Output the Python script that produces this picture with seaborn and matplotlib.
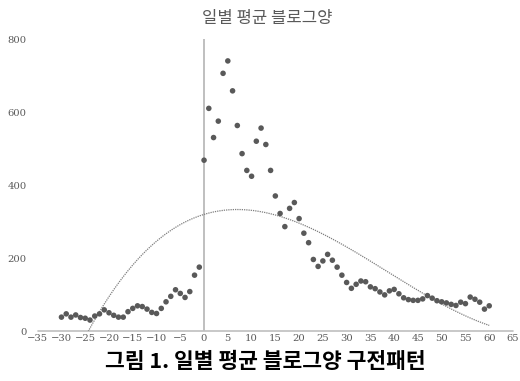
import numpy as np
import pandas as pd
import matplotlib
matplotlib.use("Agg")
import matplotlib.pyplot as plt
import seaborn as sns

# Days relative to the event and the average blog volume for each day
days = list(range(-30, 61))
blog_volume = [
    38, 47, 38, 44, 37, 35, 30, 41, 47, 58,      # -30 .. -21
    50, 43, 38, 38, 53, 62, 69, 67, 60, 51,      # -20 .. -11
    48, 62, 80, 95, 113, 103, 92, 108, 153, 175, # -10 .. -1
    468, 610, 530, 575, 706, 740, 658, 563, 486, 440,  # 0 .. 9
    424, 520, 556, 511, 440, 370, 322, 286, 336, 352,  # 10 .. 19
    308, 268, 242, 196, 177, 192, 210, 194, 175, 153,  # 20 .. 29
    133, 117, 128, 137, 135, 121, 116, 107, 99, 110,   # 30 .. 39
    114, 102, 91, 86, 84, 84, 88, 97, 90, 83,          # 40 .. 49
    80, 77, 73, 70, 79, 75, 93, 87, 79, 60,            # 50 .. 59
    69,                                                # 60
]
x_ticks = list(range(-35, 66, 5))
y_ticks = [0, 200, 400, 600, 800]
trend_order = 3

title = "일별 평균 블로그양"
caption = "그림 1. 일별 평균 블로그양 구전패턴"

df = pd.DataFrame({"day": days, "volume": blog_volume})

# Polynomial trendline through the daily averages
coef = np.polyfit(df["day"], df["volume"], trend_order)
trend = pd.DataFrame({"day": np.linspace(min(days), max(days), 300)})
trend["volume"] = np.polyval(coef, trend["day"])

sns.set_theme(style="white")
plt.rcParams["font.family"] = ["DejaVu Serif", "Noto Sans CJK KR"]
plt.rcParams["axes.unicode_minus"] = True

fig = plt.figure(figsize=(5.2, 3.81), dpi=100)
ax = fig.add_axes([0.0725, 0.1312, 0.914, 0.7664])

sns.lineplot(data=trend, x="day", y="volume", ax=ax, color="#7f7f7f",
             linewidth=0.9, linestyle=(0, (1, 0.8)), zorder=2)
sns.scatterplot(data=df, x="day", y="volume", ax=ax, color="#595959",
                s=16, edgecolor="none", zorder=3)

ax.axvline(0, ymin=0, ymax=1, color="#bfbfbf", linewidth=1.4, zorder=1)
ax.axhline(0, color="#bfbfbf", linewidth=1.2, zorder=1, clip_on=False)

ax.set_xlim(-35, 65)
ax.set_ylim(0, 800)
ax.set_xticks(x_ticks)
ax.set_yticks(y_ticks)
ax.set_xticklabels([f"{t}".replace("-", "\u2212") for t in x_ticks])
ax.tick_params(axis="both", length=0, labelsize=7.2, colors="#595959")
ax.tick_params(axis="y", pad=8)
ax.tick_params(axis="x", pad=2.5)
ax.set_xlabel("")
ax.set_ylabel("")
for side in ["left", "right", "top", "bottom"]:
    ax.spines[side].set_visible(False)

fig.text(267 / 520, 1 - 18 / 381, title, ha="center", va="center",
         fontsize=12, color="#595959", family=["Noto Sans CJK KR", "DejaVu Sans"])
fig.text(265 / 520, 1 - 362 / 381, caption, ha="center", va="center",
         fontsize=15.5, fontweight="bold", color="black",
         family=["Noto Sans CJK KR", "DejaVu Sans"])

fig.savefig("out.png", dpi=100)
